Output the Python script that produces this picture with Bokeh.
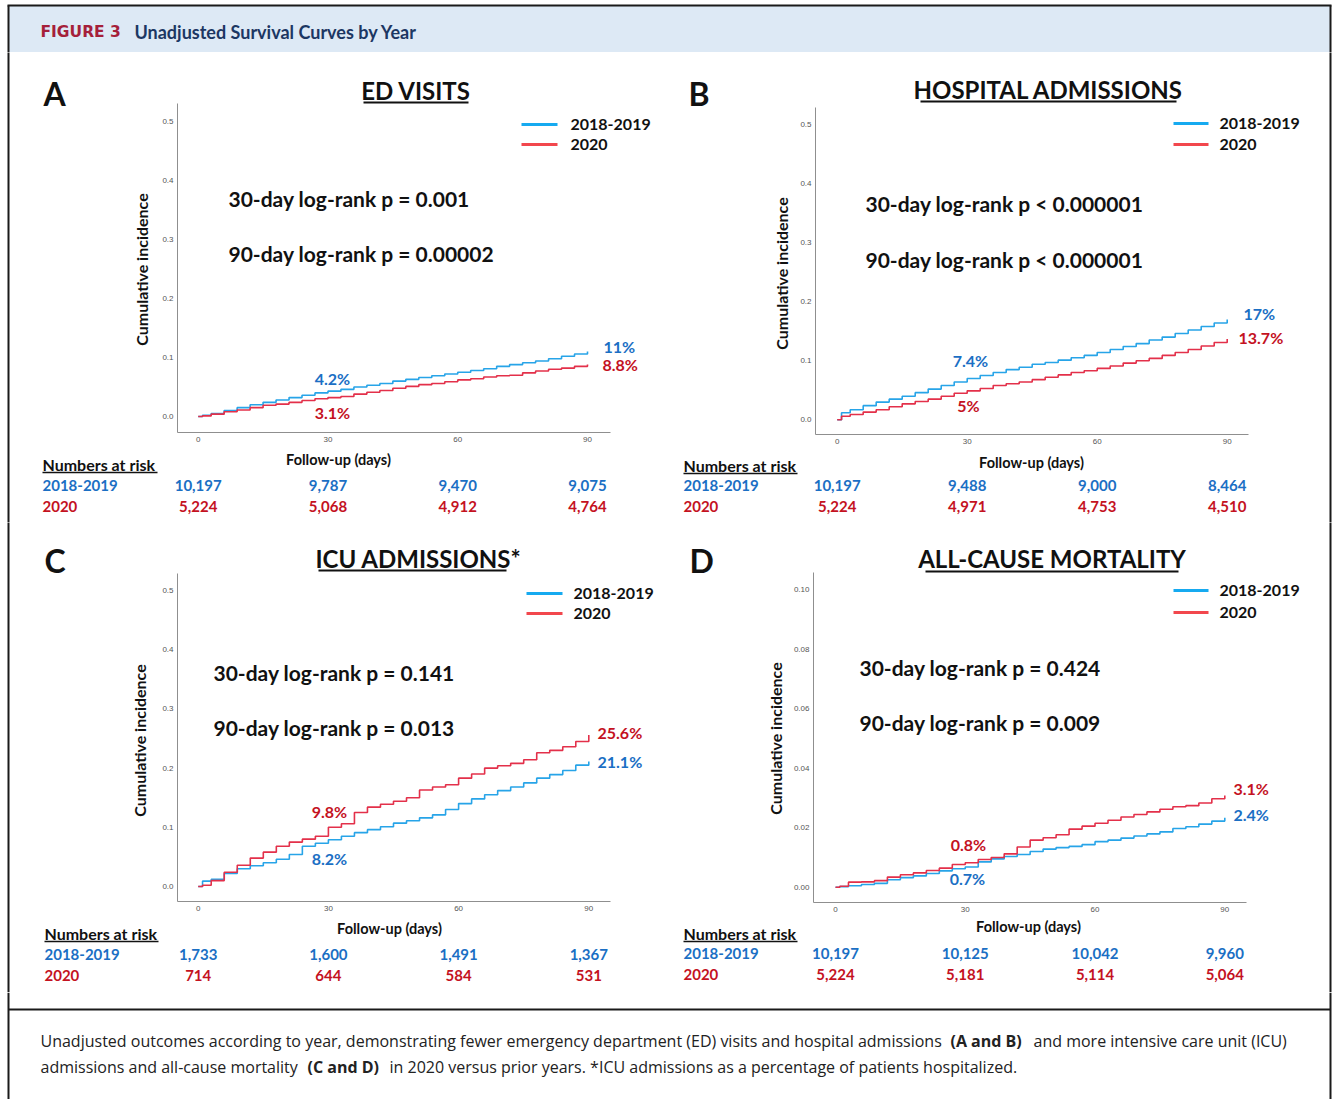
from bokeh.plotting import figure
from bokeh.layouts import column, row
from bokeh.models import (Range1d, FixedTicker, PrintfTickFormatter, Label, LabelSet,
                          ColumnDataSource, Arrow)
from bokeh.core.properties import value
from bokeh.embed import file_html
from bokeh.resources import INLINE

# ---------------------------------------------------------------- data
DAYS = [0, 1, 3, 6, 9, 12, 15, 18, 21, 24, 27, 30, 33, 36, 39, 42, 45, 48, 51,
        54, 57, 60, 63, 66, 69, 72, 75, 78, 81, 84, 87, 90]

ED_PRIOR = [0, 0.002, 0.005, 0.010, 0.015, 0.020, 0.024, 0.028, 0.032, 0.036, 0.040, 0.043,
            0.046, 0.050, 0.053, 0.056, 0.060, 0.063, 0.066, 0.069, 0.072, 0.075, 0.078,
            0.081, 0.085, 0.088, 0.091, 0.094, 0.098, 0.102, 0.106, 0.110]
ED_2020 = [0, 0.001, 0.004, 0.008, 0.011, 0.015, 0.019, 0.021, 0.024, 0.027, 0.030, 0.032,
           0.034, 0.038, 0.041, 0.044, 0.048, 0.051, 0.054, 0.056, 0.059, 0.062, 0.064,
           0.067, 0.069, 0.070, 0.074, 0.077, 0.080, 0.082, 0.085, 0.088]
HOSP_PRIOR = [0, 0.012, 0.017, 0.024, 0.030, 0.035, 0.040, 0.046, 0.052, 0.058, 0.064, 0.070,
              0.075, 0.080, 0.085, 0.089, 0.094, 0.097, 0.101, 0.105, 0.109, 0.114, 0.119,
              0.124, 0.129, 0.135, 0.140, 0.146, 0.152, 0.158, 0.164, 0.170]
HOSP_2020 = [0, 0.006, 0.009, 0.013, 0.017, 0.022, 0.027, 0.031, 0.035, 0.040, 0.045, 0.049,
             0.053, 0.058, 0.061, 0.064, 0.068, 0.072, 0.076, 0.080, 0.083, 0.087, 0.091,
             0.096, 0.100, 0.104, 0.109, 0.114, 0.119, 0.125, 0.131, 0.137]
ICU_PRIOR = [0, 0.009, 0.012, 0.022, 0.030, 0.035, 0.040, 0.046, 0.054, 0.068, 0.073, 0.079,
             0.085, 0.091, 0.096, 0.101, 0.107, 0.111, 0.116, 0.121, 0.130, 0.140, 0.148,
             0.155, 0.162, 0.168, 0.175, 0.183, 0.189, 0.196, 0.205, 0.211]
ICU_2020 = [0, 0.002, 0.010, 0.024, 0.036, 0.048, 0.058, 0.068, 0.075, 0.080, 0.085, 0.100,
            0.106, 0.125, 0.134, 0.139, 0.144, 0.150, 0.163, 0.168, 0.172, 0.183, 0.190,
            0.200, 0.204, 0.208, 0.214, 0.226, 0.230, 0.236, 0.245, 0.256]
MORT_PRIOR = [0, 0.0002, 0.0005, 0.0009, 0.0013, 0.0025, 0.0032, 0.0038, 0.0046, 0.0055,
              0.0062, 0.0068, 0.0085, 0.0095, 0.0103, 0.0110, 0.0120, 0.0128, 0.0133, 0.0137,
              0.0143, 0.0153, 0.0158, 0.0165, 0.0172, 0.0179, 0.0186, 0.0197, 0.0203, 0.0212,
              0.0222, 0.0233]
MORT_2020 = [0, 0.0003, 0.0017, 0.0018, 0.0022, 0.0034, 0.0042, 0.0048, 0.0056, 0.0064,
             0.0076, 0.0082, 0.0093, 0.0100, 0.0112, 0.0135, 0.0158, 0.0166, 0.0176, 0.0195,
             0.0205, 0.0215, 0.0225, 0.0236, 0.0244, 0.0253, 0.0262, 0.0270, 0.0274, 0.0283,
             0.0297, 0.0308]

RISK_DAYS = [0, 30, 60, 90]
ED_RISK_PRIOR = [10197, 9787, 9470, 9075]
ED_RISK_2020 = [5224, 5068, 4912, 4764]
HOSP_RISK_PRIOR = [10197, 9488, 9000, 8464]
HOSP_RISK_2020 = [5224, 4971, 4753, 4510]
ICU_RISK_PRIOR = [1733, 1600, 1491, 1367]
ICU_RISK_2020 = [714, 644, 584, 531]
MORT_RISK_PRIOR = [10197, 10125, 10042, 9960]
MORT_RISK_2020 = [5224, 5181, 5114, 5064]

SERIES_NAMES = ["2018-2019", "2020"]
PANEL_LETTERS = ["A", "B", "C", "D"]
PANEL_TITLES = ["ED VISITS", "HOSPITAL ADMISSIONS", "ICU ADMISSIONS*", "ALL-CAUSE MORTALITY"]
P30 = ["30-day log-rank p = 0.001", "30-day log-rank p < 0.000001",
       "30-day log-rank p = 0.141", "30-day log-rank p = 0.424"]
P90 = ["90-day log-rank p = 0.00002", "90-day log-rank p < 0.000001",
       "90-day log-rank p = 0.013", "90-day log-rank p = 0.009"]
PCT30_PRIOR = ["4.2%", "7.4%", "8.2%", "0.7%"]
PCT30_2020 = ["3.1%", "5%", "9.8%", "0.8%"]
PCT90_PRIOR = ["11%", "17%", "21.1%", "2.4%"]
PCT90_2020 = ["8.8%", "13.7%", "25.6%", "3.1%"]
X_TICKS = [0, 30, 60, 90]
Y_TICKS_PCT = [0.0, 0.1, 0.2, 0.3, 0.4, 0.5]
Y_TICKS_MORT = [0.0, 0.02, 0.04, 0.06, 0.08, 0.10]

HEADER_LABEL = "FIGURE 3"
HEADER_TITLE = "Unadjusted Survival Curves by Year"
CAPTION = [
    [("Unadjusted outcomes according to year, demonstrating fewer emergency department (ED) visits and hospital admissions", False),
     ("(A and B)", True), ("and more intensive care unit (ICU)", False)],
    [("admissions and all-cause mortality", False), ("(C and D)", True),
     ("in 2020 versus prior years. *ICU admissions as a percentage of patients hospitalized.", False)],
]

# ---------------------------------------------------------------- style
BLUE_LINE = "#27a4e8"
RED_LINE = "#e3304a"
LEG_BLUE = "#16aaf0"
LEG_RED = "#f2474d"
BLUE_TEXT = "#1b6fc4"
RED_TEXT = "#c4121f"
INK = "#111111"
BORDER = "#1a1a1a"
FONT = "Lato"
CAP_FONT = "Open Sans"

PAGE_W = 1336
SPLIT_X = 660
BORDER_L = 8
BORDER_R = 1330

# page-pixel layout of every panel (positions only)
GEOM = {
    "A": dict(origin=(0, 52), size=(SPLIT_X, 470), frame=(177, 103, 610, 432),
              d0=197.7, d90=587.0, y0=416.0, ytop=121.0, ytop_val=0.5,
              letter=(43, 93), title=(415.5, 90), ul=(363, 468, 102),
              ylab=(141, 269), xlab=(338, 459), p30=(228, 198), p90=(228, 253),
              leg=(521, 557, 570, 124, 144),
              pct30=((332, 378), (332, 412)), pct90=((603, 346), (602, 364)),
              risk=(42, 464, 157, 472, 485, 506), border=BORDER_L),
    "B": dict(origin=(SPLIT_X, 52), size=(PAGE_W - SPLIT_X, 470), frame=(815, 107, 1248, 434),
              d0=836.7, d90=1226.7, y0=419.3, ytop=124.0, ytop_val=0.5,
              letter=(688, 93), title=(1048, 89), ul=(920, 1176, 101),
              ylab=(781, 273), xlab=(1031, 462), p30=(865, 203), p90=(865, 259),
              leg=(1173, 1208, 1219, 123, 144),
              pct30=((970, 360), (968, 405)), pct90=((1243, 313), (1238, 337)),
              risk=(683, 465, 797, 473, 485, 506), border=BORDER_R),
    "C": dict(origin=(0, 522), size=(SPLIT_X, 470), frame=(177, 573, 610, 901),
              d0=197.7, d90=588.3, y0=886.0, ytop=590.0, ytop_val=0.5,
              letter=(44, 560), title=(418, 558), ul=(318, 506, 570),
              ylab=(139, 740), xlab=(389, 928), p30=(213, 672), p90=(213, 727),
              leg=(526, 562, 573, 593, 613),
              pct30=((329, 858), (329, 811)), pct90=((597, 761), (597, 732)),
              risk=(44, 933, 158, 941, 954, 975), border=BORDER_L),
    "D": dict(origin=(SPLIT_X, 522), size=(PAGE_W - SPLIT_X, 470), frame=(813, 572, 1246, 902),
              d0=835.0, d90=1224.3, y0=886.7, ytop=589.0, ytop_val=0.10,
              letter=(689, 560), title=(1051.5, 558), ul=(925, 1178, 571),
              ylab=(775, 738), xlab=(1028, 926), p30=(859, 667), p90=(859, 722),
              leg=(1173, 1208, 1219, 590, 612),
              pct30=((967, 878), (968, 844)), pct90=((1233, 814), (1233, 788)),
              risk=(683, 933, 797, 941, 953, 974), border=BORDER_R),
}


def make_panel(i, key, prior, cur, yticks, yfmt, risk_prior, risk_cur):
    g = GEOM[key]
    ox, oy = g["origin"]
    W, H = g["size"]
    fl, ft, fr, fb = g["frame"]
    kx = (g["d90"] - g["d0"]) / 90.0
    ky = (g["y0"] - g["ytop"]) / g["ytop_val"]

    def dx(px):
        return (px - g["d0"]) / kx

    def dy(py):
        return (g["y0"] - py) / ky

    p = figure(width=W, height=H,
               x_range=Range1d(dx(ox), dx(ox + W)), y_range=Range1d(dy(oy + H), dy(oy)),
               toolbar_location=None, output_backend="svg",
               min_border=0, min_border_left=0, min_border_right=0,
               min_border_top=0, min_border_bottom=0)
    p.title.visible = False
    p.outline_line_color = None
    p.xgrid.visible = False
    p.ygrid.visible = False
    for ax in (p.xaxis[0], p.yaxis[0]):
        ax.axis_line_color = "#8f8f8f"
        ax.axis_line_width = 1
        ax.major_tick_line_color = None
        ax.minor_tick_line_color = None
        ax.major_tick_out = 0
        ax.major_tick_in = 0
        ax.major_label_standoff = 4
        ax.major_label_text_font = "Liberation Sans"
        ax.major_label_text_font_size = "8px"
        ax.major_label_text_color = "#555555"
    p.xaxis.ticker = FixedTicker(ticks=X_TICKS)
    p.xaxis.formatter = PrintfTickFormatter(format="%d")
    p.xaxis.fixed_location = dy(fb)
    p.xaxis.bounds = (dx(fl), dx(fr))
    p.yaxis.ticker = FixedTicker(ticks=yticks)
    p.yaxis.formatter = PrintfTickFormatter(format=yfmt)
    p.yaxis.fixed_location = dx(fl)
    p.yaxis.bounds = (dy(fb), dy(ft))

    p.step(DAYS, prior, mode="after", line_color=BLUE_LINE, line_width=1.6)
    p.step(DAYS, cur, mode="after", line_color=RED_LINE, line_width=1.6)

    def lab(pos, text, size, color=INK, align="left", angle=0.0, font=FONT, bold=True):
        p.add_layout(Label(x=dx(pos[0]), y=dy(pos[1]), text=text, text_font=font,
                           text_font_size=f"{size}px",
                           text_font_style="bold" if bold else "normal",
                           text_color=color, text_align=align, text_baseline="middle",
                           angle=angle))

    def seg(x0, y0, x1, y1, color, width):
        p.add_layout(Arrow(x_start=dx(x0), y_start=dy(y0), x_end=dx(x1), y_end=dy(y1),
                           end=None, line_color=color, line_width=width))

    # panel letter, title + underline
    lab(g["letter"], PANEL_LETTERS[i], 32)
    lab(g["title"], PANEL_TITLES[i], 24, align="center")
    u0, u1, uy = g["ul"]
    seg(u0, uy, u1, uy, INK, 2)
    # axis titles
    lab(g["ylab"], "Cumulative incidence", 16, align="center", angle=1.5707963)
    lab(g["xlab"], "Follow-up (days)", 14.5, align="center")
    # p-values
    lab(g["p30"], P30[i], 21)
    lab(g["p90"], P90[i], 21)
    # legend
    lx0, lx1, ltx, ly1, ly2 = g["leg"]
    seg(lx0, ly1, lx1, ly1, LEG_BLUE, 3)
    seg(lx0, ly2, lx1, ly2, LEG_RED, 3)
    lab((ltx, ly1), SERIES_NAMES[0], 16)
    lab((ltx, ly2), SERIES_NAMES[1], 16)
    # percentage annotations
    lab(g["pct30"][0], PCT30_PRIOR[i], 16, color=BLUE_TEXT, align="center")
    lab(g["pct30"][1], PCT30_2020[i], 16, color=RED_TEXT, align="center")
    lab(g["pct90"][0], PCT90_PRIOR[i], 16, color=BLUE_TEXT)
    lab(g["pct90"][1], PCT90_2020[i], 16, color=RED_TEXT)
    # numbers at risk
    rx, ry, rx1, ruy, ry1, ry2 = g["risk"]
    lab((rx, ry), "Numbers at risk", 16)
    seg(rx, ruy, rx1, ruy, INK, 1.5)
    lab((rx, ry1), SERIES_NAMES[0], 15, color=BLUE_TEXT)
    lab((rx, ry2), SERIES_NAMES[1], 15, color=RED_TEXT)
    for vals, ypx, col in ((risk_prior, ry1, BLUE_TEXT), (risk_cur, ry2, RED_TEXT)):
        src = ColumnDataSource(dict(x=RISK_DAYS, y=[dy(ypx)] * len(RISK_DAYS),
                                    t=[f"{v:,}" for v in vals]))
        p.add_layout(LabelSet(x="x", y="y", text="t", source=src, text_font=value(FONT),
                              text_font_size=value("15px"), text_font_style=value("bold"),
                              text_color=value(col), text_align=value("center"),
                              text_baseline=value("middle")))
    # outer frame side
    bx = g["border"]
    seg(bx, oy - 2, bx, oy + H + 2, BORDER, 2)
    return p


pA = make_panel(0, "A", ED_PRIOR, ED_2020, Y_TICKS_PCT, "%.1f", ED_RISK_PRIOR, ED_RISK_2020)
pB = make_panel(1, "B", HOSP_PRIOR, HOSP_2020, Y_TICKS_PCT, "%.1f", HOSP_RISK_PRIOR, HOSP_RISK_2020)
pC = make_panel(2, "C", ICU_PRIOR, ICU_2020, Y_TICKS_PCT, "%.1f", ICU_RISK_PRIOR, ICU_RISK_2020)
pD = make_panel(3, "D", MORT_PRIOR, MORT_2020, Y_TICKS_MORT, "%.2f", MORT_RISK_PRIOR, MORT_RISK_2020)

# ---------------------------------------------------------------- header
HDR_H = 52
hdr = figure(width=PAGE_W, height=HDR_H, x_range=Range1d(0, PAGE_W), y_range=Range1d(HDR_H, 0),
             x_axis_type=None, y_axis_type=None, toolbar_location=None, output_backend="svg",
             min_border=0, outline_line_color=None)
hdr.title.visible = False
hdr.quad(left=[BORDER_L], right=[BORDER_R], top=[5], bottom=[HDR_H], fill_color="#dde9f5",
         line_color=None)
hdr.segment(x0=[BORDER_L, BORDER_L - 1, BORDER_R], y0=[5, 5, 5],
            x1=[BORDER_L, BORDER_R + 1, BORDER_R], y1=[HDR_H, 5, HDR_H],
            line_color=BORDER, line_width=2)
hdr.text(x=[40], y=[31], text=[HEADER_LABEL], text_font=value("DejaVu Sans"),
         text_font_style="bold", text_font_size="15.5px", text_color="#a51f3a",
         text_baseline="middle")
hdr.text(x=[134], y=[31], text=[HEADER_TITLE], text_font=value(FONT),
         text_font_style="bold", text_font_size="18px", text_color="#1c3763",
         text_baseline="middle")

# ---------------------------------------------------------------- caption
CAP_H = 107
cap = figure(width=PAGE_W, height=CAP_H, x_range=Range1d(0, PAGE_W), y_range=Range1d(CAP_H, 0),
             x_axis_type=None, y_axis_type=None, toolbar_location=None, output_backend="svg",
             min_border=0, outline_line_color=None)
cap.title.visible = False
cap.segment(x0=[BORDER_L, BORDER_R, BORDER_L], y0=[0, 0, 17],
            x1=[BORDER_L, BORDER_R, BORDER_R], y1=[CAP_H, CAP_H, 17],
            line_color=BORDER, line_width=2)
CAP_X = [[40, 950, 1033], [40, 307, 389]]
CAP_Y = [48, 74]
for li, line in enumerate(CAPTION):
    for si, (txt, bold) in enumerate(line):
        cap.text(x=[CAP_X[li][si]], y=[CAP_Y[li]], text=[txt], text_font=value(CAP_FONT),
                 text_font_style="bold" if bold else "normal", text_font_size="16px",
                 text_color="#222222", text_baseline="middle")

layout = column(hdr, row(pA, pB, spacing=0), row(pC, pD, spacing=0), cap, spacing=0)
open("out.html", "w").write(file_html(layout, INLINE, "Figure 3"))
